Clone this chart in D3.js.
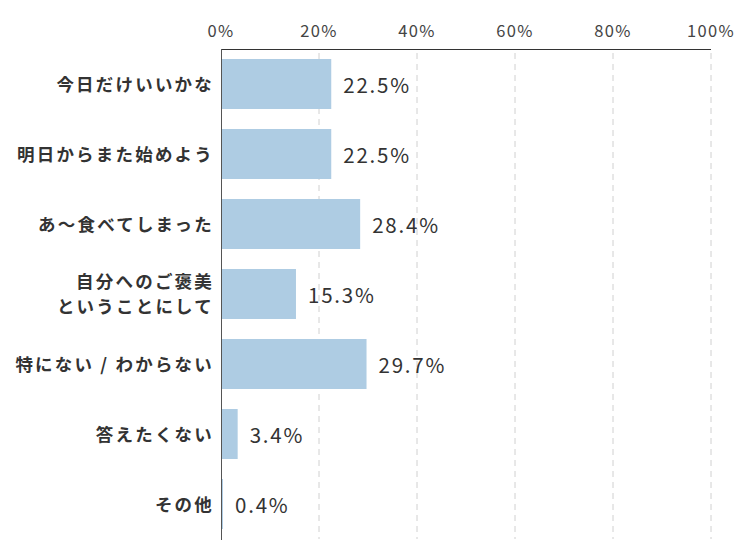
<!DOCTYPE html>
<html><head><meta charset="utf-8">
<script src="https://cdn.jsdelivr.net/npm/d3@7"></script>
<style>body{margin:0;background:#fff}</style>
</head><body>
<svg id="c" width="750" height="550"></svg>
<script>
const categories = [["今日だけいいかな"],["明日からまた始めよう"],["あ～食べてしまった"],["自分へのご褒美","ということにして"],["特にない / わからない"],["答えたくない"],["その他"]];
const values = [22.5, 22.5, 28.4, 15.3, 29.7, 3.4, 0.4];
const ticks = [0, 20, 40, 60, 80, 100];

const svg = d3.select("#c");
const fontCJK = "'Noto Sans CJK JP', 'Noto Sans', sans-serif";
const x = d3.scaleLinear().domain([0, 100]).range([221, 711]);
const y = d3.scaleBand().domain(d3.range(categories.length)).range([49, 539]).paddingInner(20/70).paddingOuter(10/70);

// gridlines
svg.append("g").selectAll("line").data(ticks.slice(1)).join("line")
  .attr("x1", d => x(d)).attr("x2", d => x(d)).attr("y1", 53).attr("y2", 539)
  .attr("stroke", "#d0d0d0").attr("stroke-width", 1).attr("stroke-dasharray", "6,5");

// tick labels
svg.append("g").selectAll("text").data(ticks).join("text")
  .attr("x", d => x(d)).attr("y", 37).attr("text-anchor", "middle")
  .attr("font-family", fontCJK).attr("font-size", 16.5).attr("fill", "#444")
  .attr("letter-spacing", 1.3)
  .text(d => d + "%");

// bars
svg.append("g").selectAll("rect").data(values).join("rect")
  .attr("x", x(0)).attr("y", (d, i) => y(i)).attr("width", d => x(d) - x(0)).attr("height", y.bandwidth())
  .attr("fill", "#aecce3");

// axes lines
svg.append("line").attr("x1", x(0)).attr("x2", x(100)).attr("y1", 49.5).attr("y2", 49.5).attr("stroke", "#333").attr("stroke-width", 1);
svg.append("line").attr("x1", x(0) + 0.5).attr("x2", x(0) + 0.5).attr("y1", 49).attr("y2", 540).attr("stroke", "#555").attr("stroke-width", 1);

// value labels
svg.append("g").selectAll("text").data(values).join("text")
  .attr("x", d => x(d) + 12).attr("y", (d, i) => y(i) + y.bandwidth() / 2 + 8.5)
  .attr("font-family", fontCJK).attr("font-size", 20.5).attr("fill", "#333")
  .attr("letter-spacing", 1.8)
  .text(d => d.toFixed(1) + "%");

// category labels (one text element per line)
const lines = [];
categories.forEach((d, i) => d.forEach((line, k) => lines.push({i, k, n: d.length, line})));
svg.append("g").selectAll("text").data(lines).join("text")
  .attr("text-anchor", "end")
  .attr("font-family", fontCJK).attr("font-size", 17.5).attr("font-weight", "bold").attr("fill", "#333")
  .attr("letter-spacing", 2.2)
  .attr("x", 214)
  .attr("y", d => y(d.i) + y.bandwidth() / 2 + 6.5 + (d.k - (d.n - 1) / 2) * 25.5)
  .text(d => d.line);
</script>
</body></html>
